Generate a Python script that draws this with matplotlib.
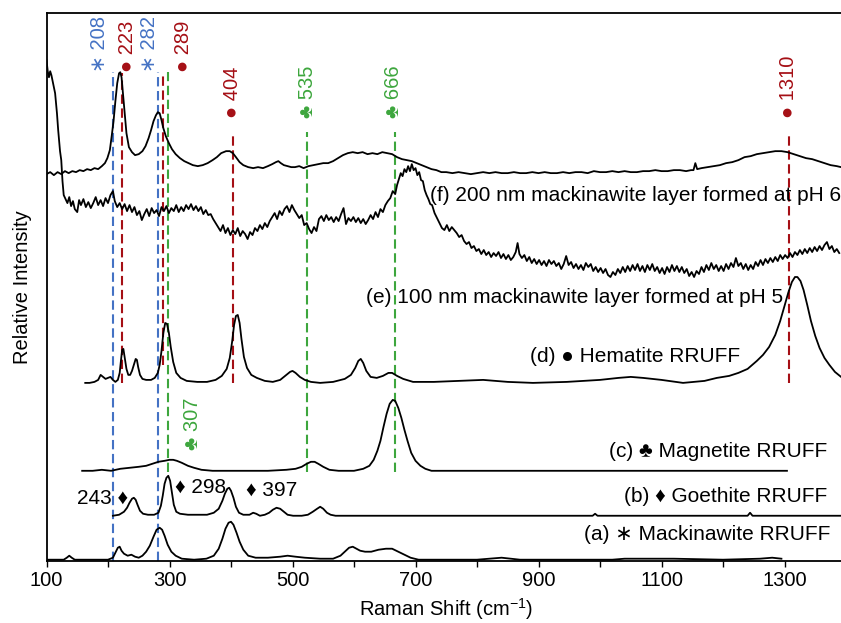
import matplotlib
matplotlib.use('Agg')
import matplotlib.pyplot as plt
from matplotlib.ticker import FixedLocator

plt.rcParams['font.family'] = ['Liberation Sans', 'DejaVu Sans']
plt.rcParams['mathtext.fontset'] = 'custom'
plt.rcParams['mathtext.rm'] = 'Liberation Sans'
plt.rcParams['mathtext.default'] = 'regular'

# ---------------- data (Raman shift cm-1, relative intensity, stacked) ----------------
f_x = [100,106,112,118,124,130,136,142,148,154,160,166,172,178,184,190,195,199,203,206,209,212,215,218,220,222,224,227,230,234,239,244,250,256,261,266,270,274,278,281,284,287,290,294,299,304,310,317,324,331,338,346,354,362,370,377,384,392,398,403,408,414,420,428,436,444,452,460,467,473,477,481,486,492,498,504,511,518,526,534,542,550,558,566,574,582,590,598,606,614,622,630,638,646,654,662,670,678,686,694,702,710,718,726,734,742,750,760,770,780,790,800,810,820,830,840,850,860,870,880,890,900,910,920,930,940,950,960,970,980,990,1000,1010,1020,1030,1040,1050,1060,1070,1080,1090,1100,1110,1120,1130,1140,1148,1152,1155,1158,1165,1175,1185,1195,1205,1215,1225,1235,1245,1255,1265,1275,1285,1295,1305,1315,1325,1335,1345,1355,1365,1375,1385,1392]
f_y = [387,389,386,389,387,390,388,390,389,391,390,392,391,393,392,395,398,403,411,425,440,460,478,488,489,484,470,448,428,414,409,406,407,410,415,423,431,440,446,449,448,441,433,425,418,412,407,403,400,398,396,395,396,398,401,404,408,410,410,408,404,399,396,394,393,394,393,395,397,399,400,398,396,395,394,394,395,393,395,396,397,398,398,400,403,406,408,409,408,409,407,408,407,409,408,407,404,402,401,400,398,396,394,392,391,389,389,388,389,388,387,388,389,388,389,388,388,389,388,388,389,388,389,388,388,389,388,389,389,388,390,389,389,390,389,390,389,389,390,390,391,390,390,391,391,390,391,391,398,392,393,394,395,396,398,399,401,404,405,407,408,409,410,410,409,407,405,403,402,400,398,396,395,394]

e_x = [100,102,104,106,108,110,112,114,117,119,122,124,126,128,131,134,137,140,143,146,150,153,156,160,164,168,172,176,180,184,188,192,196,200,204,208,211,215,219,223,227,231,235,239,243,247,251,255,259,263,267,271,275,279,283,287,291,295,299,303,307,311,315,319,323,327,331,335,339,343,347,351,355,359,363,367,371,375,379,383,387,391,395,399,403,407,411,415,419,423,427,431,435,439,443,447,451,455,459,463,467,471,475,479,483,487,491,495,499,503,507,511,515,519,523,527,531,535,539,543,547,551,555,559,563,567,571,575,579,583,587,591,595,599,603,607,611,615,619,623,627,631,635,639,643,647,651,655,659,663,667,670,673,676,679,682,685,688,691,694,697,700,703,706,709,712,715,718,721,724,727,731,735,739,743,747,751,755,759,763,767,771,775,779,783,787,791,795,799,803,807,811,815,819,823,827,831,835,839,843,847,851,855,859,863,866,869,873,877,881,885,889,893,897,901,905,909,913,917,921,925,929,933,937,941,945,949,953,957,961,965,969,973,977,981,985,989,993,997,1001,1005,1009,1013,1017,1021,1025,1029,1033,1037,1041,1045,1049,1053,1057,1061,1065,1069,1073,1077,1081,1085,1089,1093,1097,1101,1105,1109,1113,1117,1121,1125,1129,1133,1137,1141,1145,1149,1153,1157,1161,1165,1169,1173,1177,1181,1185,1189,1193,1197,1201,1205,1209,1213,1217,1221,1225,1229,1233,1237,1241,1245,1249,1253,1257,1261,1265,1269,1273,1277,1281,1285,1289,1293,1297,1301,1305,1309,1313,1317,1321,1325,1329,1333,1337,1341,1345,1349,1353,1357,1361,1365,1369,1373,1377,1381,1385,1389]
e_y = [501,490,484,490,486,480,474,468,448,431,410,401,380,366,362,358,364,355,360,352,349,361,356,362,354,359,353,358,364,356,361,355,363,358,366,370,360,354,358,352,357,350,356,349,354,346,350,341,347,352,345,353,348,351,345,354,350,355,348,353,350,356,349,354,350,356,352,357,351,355,350,354,347,351,346,347,342,338,334,330,336,328,333,326,331,327,333,325,330,327,322,329,326,333,330,336,332,338,334,340,344,348,342,350,346,352,355,349,356,351,347,343,346,336,338,332,328,334,330,342,345,340,346,341,344,339,344,340,347,353,337,343,340,344,339,343,338,342,337,341,346,342,349,344,352,349,356,360,363,370,367,376,382,388,385,392,389,395,390,397,391,393,386,389,381,380,371,366,362,357,356,348,343,338,333,331,336,330,334,331,328,324,326,320,317,319,313,315,310,312,307,311,306,309,304,308,305,309,303,307,302,306,301,304,309,318,307,303,306,300,304,298,302,297,301,296,300,295,301,297,300,295,298,292,297,305,296,299,293,297,292,296,291,298,294,297,290,294,289,293,288,292,286,284,289,286,292,288,294,289,295,290,296,291,297,290,295,289,296,291,297,290,294,288,293,287,294,289,296,290,295,289,294,288,292,285,289,284,290,287,294,289,296,291,298,292,296,290,295,290,297,292,298,294,303,295,298,292,297,291,296,292,299,295,301,296,302,298,303,299,304,300,306,302,306,303,308,304,309,306,311,307,312,308,313,309,314,310,315,311,316,319,312,315,309,312,308]

d_x = [163,170,178,184,188,192,196,200,204,208,212,216,219,221,223,225,227,230,233,236,239,242,245,247,249,252,256,262,270,276,281,284,287,290,293,296,299,302,306,311,318,328,345,361,375,385,393,398,402,405,408,411,414,417,421,426,433,442,455,468,480,490,496,500,505,512,520,530,545,566,585,595,602,607,611,615,620,627,637,647,656,662,670,680,696,730,770,810,850,891,946,1000,1030,1050,1070,1100,1135,1170,1190,1210,1225,1240,1255,1265,1275,1285,1293,1300,1306,1312,1317,1321,1326,1331,1337,1343,1350,1357,1365,1373,1382,1392]
d_y = [178,178,179,181,186,184,182,183,184,181,179,181,188,200,211,212,204,192,186,186,190,196,202,201,194,186,182,181,181,183,188,196,210,228,238,237,228,214,199,188,183,180,179,179,181,185,192,203,220,236,245,246,238,222,204,193,186,183,180,179,181,186,189,190,188,184,181,179,178,179,182,186,193,200,202,198,190,184,183,185,188,188,185,182,179,179,180,181,179,178,179,181,183,184,183,181,178,180,183,185,188,192,200,206,214,226,240,255,268,279,284,284,280,271,256,240,225,213,203,196,189,184]

c_x = [158,175,190,205,220,235,250,262,272,282,292,300,306,312,320,330,340,352,370,400,430,460,490,505,515,523,530,536,542,550,560,575,600,615,625,632,638,643,648,653,658,663,667,672,677,682,687,693,700,708,716,726,740,800,900,1000,1100,1200,1304]
c_y = [90,90,91,90,92,93,94,95,97,99,100,101,101,100,98,95,93,91,90,90,90,90,91,92,94,97,99,99,97,94,91,90,90,92,95,101,110,120,134,147,157,161,160,153,143,131,120,108,100,95,92,90,90,90,90,90,90,90,90]

b_x = [208,218,226,231,235,239,242,245,248,252,257,265,275,282,286,289,292,295,298,301,304,307,311,317,330,345,361,372,380,386,390,394,397,400,404,408,413,420,430,436,441,447,455,462,468,474,480,486,492,501,515,525,533,540,545,550,556,562,570,700,800,900,988,992,996,1100,1240,1244,1248,1392]
b_y = [45,46,49,53,58,62,63,61,56,50,47,46,46,48,55,65,77,83,85,80,68,56,49,47,46,46,46,48,52,60,67,72,73,70,63,54,48,46,46,48,47,45,46,48,51,53,52,49,46,45,45,46,49,52,54,52,48,46,45,45,45,45,45,47,45,45,45,48,45,45]

a_x = [100,128,133,137,141,146,200,208,212,216,219,222,226,232,238,244,250,256,262,268,274,279,284,288,292,297,303,310,320,340,360,372,380,386,391,396,400,404,409,414,420,428,440,460,480,492,505,520,545,566,578,585,592,598,604,610,618,628,640,652,662,672,682,692,705,800,820,840,855,870,1000,1020,1040,1080,1120,1200,1260,1280,1295]
a_y = [1,1,3,5,3,1,1,3,8,13,14,10,7,5,6,4,3,5,9,15,24,31,33,31,25,16,9,5,2,1,2,5,12,22,32,38,39,36,28,19,11,5,3,3,4,5,4,3,2,2,5,9,13,14,12,10,9,9,11,12,12,9,6,3,1,1,2,3,2,1,1,1,2,2,2,1,2,3,2]

# reference lines: position, bottom, top, colour key
ref_pos = [208, 223, 282, 289, 298, 404, 524, 666, 1307]
ref_bottom = [0, 178, 0, 196, 89, 178, 89, 89, 178]
ref_top = [489, 488, 489, 488, 489, 429, 429, 429, 429]
ref_kind = ['b', 'r', 'b', 'r', 'g', 'r', 'g', 'g', 'r']

# rotated peak labels
lab_text = ['\u2217 208', '\u25cf 223', '\u2217 282', '\u25cf 289', '\u25cf 404', '\u2663 535', '\u2663 666', '\u25cf 1310', '\u2663 307']
lab_x = [186, 231, 268, 322, 403, 524, 665, 1306, 337]
lab_y = [489, 489, 489, 489, 443, 443, 443, 443, 111]
lab_kind = ['b', 'r', 'b', 'r', 'r', 'g', 'g', 'r', 'g']

colors = {'b': '#4472C4', 'r': '#A50F15', 'g': '#3DA63D'}

# spectrum labels
sp_text = ['(f) 200 nm mackinawite layer formed at pH 6',
           '(e) 100 nm mackinawite layer formed at pH 5',
           '(d) \u25cf Hematite RRUFF',
           '(c) \u2663 Magnetite RRUFF',
           '(b) \u2666 Goethite RRUFF',
           '(a) \u2217 Mackinawite RRUFF',
           '243 \u2666', '\u2666 298', '\u2666 397']
sp_x = [724, 1298, 1228, 1369, 1369, 1374, 233, 309, 424]
sp_y = [366, 263, 204, 109, 64, 26, 63, 74, 71]
sp_ha = ['left', 'right', 'right', 'right', 'right', 'right', 'right', 'left', 'left']

# ---------------- figure ----------------
W, H = 841, 623
fig = plt.figure(figsize=(W / 100, H / 100), dpi=100)
ax = fig.add_axes([46.5 / W, 62.3 / H, 799.5 / W, 547.4 / H])

for xs, ys in [(f_x, f_y), (e_x, e_y), (d_x, d_y), (c_x, c_y), (b_x, b_y), (a_x, a_y)]:
    ax.plot(xs, ys, color='black', lw=1.3, zorder=3)

for p, lo, hi, k in zip(ref_pos, ref_bottom, ref_top, ref_kind):
    ax.plot([p, p], [lo, hi], color=colors[k], lw=1.5, linestyle=(0, (4.5, 2.2)), zorder=2)

fs = 14.5
for t, x, y, k in zip(lab_text, lab_x, lab_y, lab_kind):
    ax.text(x, y, t, rotation=90, ha='center', va='bottom', color=colors[k], fontsize=fs, zorder=4)

for t, x, y, ha in zip(sp_text, sp_x, sp_y, sp_ha):
    ax.text(x, y, t, ha=ha, va='center', color='black', fontsize=15, zorder=4)

ax.set_xlim(100, 1400)
ax.set_ylim(0, 548)
ax.xaxis.set_major_locator(FixedLocator([100, 300, 500, 700, 900, 1100, 1300]))
ax.xaxis.set_minor_locator(FixedLocator([200, 400, 600, 800, 1000, 1200, 1400]))
ax.tick_params(axis='x', which='both', direction='out', length=4.5, width=1.0, labelsize=fs, pad=3)
ax.set_yticks([])
for s in ax.spines.values():
    s.set_linewidth(1.3)

ax.set_xlabel('Raman Shift (cm$^{-1}$)', fontsize=fs, labelpad=4)
ax.set_ylabel('Relative Intensity', fontsize=fs)
ax.yaxis.set_label_coords(-0.018, 0.5)

fig.savefig('out.png', dpi=100)
